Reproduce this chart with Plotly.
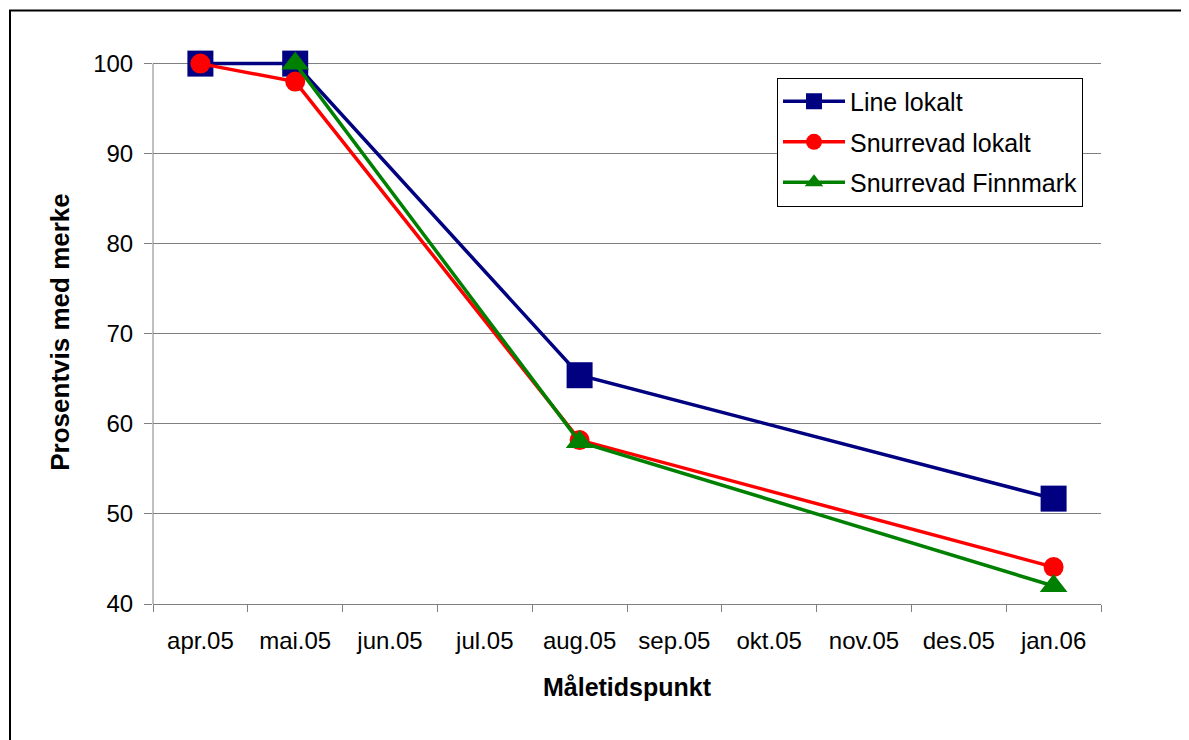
import plotly.graph_objects as go

months = ["apr.05", "mai.05", "jun.05", "jul.05", "aug.05", "sep.05",
          "okt.05", "nov.05", "des.05", "jan.06"]
line_lokalt = [100, 100, None, None, 65.4, None, None, None, None, 51.7]
snurrevad_lokalt = [100, 98, None, None, 58.2, None, None, None, None, 44.1]
snurrevad_finnmark = [None, 100, None, None, 58, None, None, None, None, 42]
y_min, y_max, y_step = 40, 100, 10

# page has 8px body margin; figure placed at (8, 8)
OFF = 8
W, H = 1189 - OFF, 740 - OFF
PL, PR, PY100, PB = 153, 1101, 64, 604  # plot area in page pixels (PY100 = y of value 100)
pad = 0.4  # small headroom so lines at 100 are not clipped
px_per_unit = (PB - PY100) / (y_max - y_min)
PT = PY100 - pad * px_per_unit
L, T = PL - OFF, PT - OFF
R, B = W + OFF - PR, H + OFF - PB
pw, ph = PR - PL, PB - PT

font = "Liberation Sans, Arial, sans-serif"

fig = go.Figure()
fig.add_trace(go.Scatter(x=months, y=line_lokalt, name="Line lokalt", mode="lines+markers",
                         connectgaps=True, cliponaxis=False, line=dict(color="#000080", width=3.5),
                         marker=dict(symbol="square", size=26, color="#000080"),
                         legendgroup="a"))
fig.add_trace(go.Scatter(x=months, y=snurrevad_lokalt, name="Snurrevad lokalt", mode="lines+markers",
                         connectgaps=True, cliponaxis=False, line=dict(color="#FF0000", width=3.5),
                         marker=dict(symbol="circle", size=20, color="#FF0000"),
                         legendgroup="b"))
fig.add_trace(go.Scatter(x=months, y=snurrevad_finnmark, name="Snurrevad Finnmark", mode="lines+markers",
                         connectgaps=True, cliponaxis=False, line=dict(color="#008000", width=3.5),
                         marker=dict(symbol="triangle-up", size=24, color="#008000"),
                         legendgroup="c"))

def px_x(p):
    return (p - PL) / pw

def px_y(p):
    return (PB - p) / ph

fig.update_layout(
    width=W, height=H,
    margin=dict(l=L, r=R, t=T, b=B),
    paper_bgcolor="white", plot_bgcolor="white",
    font=dict(family=font, size=24, color="black"),
    showlegend=True,
    legend=dict(x=px_x(777), y=px_y(78), xanchor="left", yanchor="top",
                bordercolor="black", borderwidth=1, bgcolor="white",
                font=dict(size=25), tracegroupgap=5,
                itemwidth=62),
    xaxis=dict(type="category", range=[-0.5, 9.5], showgrid=False,
               showline=True, linecolor="#808080", linewidth=1,
               ticks="outside", tickson="boundaries", ticklen=7, tickcolor="#808080",
               tickfont=dict(size=24), ticklabelstandoff=15,
               title=dict(text="<b>Måletidspunkt</b>", font=dict(size=25), standoff=25),
               fixedrange=True),
    yaxis=dict(range=[y_min, y_max + pad], tick0=y_min, dtick=y_step,
               showgrid=True, gridcolor="#808080", gridwidth=1,
               showline=False,
               ticks="outside", ticklen=8, tickcolor="#808080",
               tickfont=dict(size=24), zeroline=False, ticklabelstandoff=6,
               title=dict(text="<b>Prosentvis med merke</b>", font=dict(size=26), standoff=16),
               fixedrange=True),
    shapes=[
        dict(type="line", xref="paper", yref="y", x0=0, x1=0, y0=y_min, y1=y_max,
             line=dict(color="#808080", width=1), layer="below"),
        dict(type="rect", xref="paper", yref="paper",
             x0=px_x(10), y0=px_y(780), x1=px_x(1230), y1=px_y(11),
             line=dict(color="black", width=2), fillcolor="rgba(0,0,0,0)", layer="below"),
    ],
)

fig.write_html("out.html")
